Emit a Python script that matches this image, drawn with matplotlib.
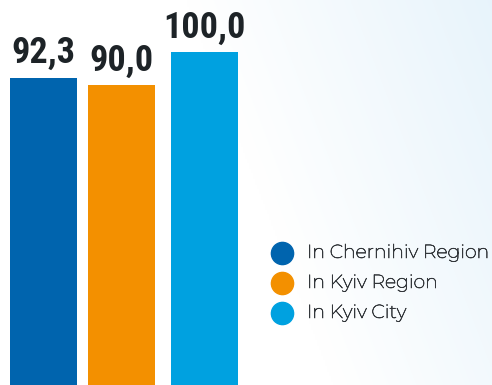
import numpy as np
import matplotlib.pyplot as plt
import matplotlib.patheffects as pe

# valores
regioes = ['In Chernihiv Region', 'In Kyiv Region', 'In Kyiv City']
valores = [92.3, 90.0, 100.0]
rotulos = ['92,3', '90,0', '100,0']
cores = ['#0064ae', '#f39000', '#00a1e0']
posicoes = [0, 1, 2.06]

fig = plt.figure(figsize=(4.92, 3.85), dpi=100)

## fundo com degradê azul claro
fundo = fig.add_axes([0, 0, 1, 1], zorder=0)
u, v = np.meshgrid(np.linspace(0, 1, 246), np.linspace(0, 1, 193))
s = np.clip((u - 0.38) * 1.5 - 0.45 * v, 0, 1)[..., None]
azul = np.array([0xe6, 0xf3, 0xfb]) / 255
fundo.imshow(1 - s * (1 - azul), aspect='auto', extent=[0, 1, 0, 1], interpolation='bilinear')
fundo.axis('off')

ax = fig.add_axes([0, 0, 1, 1], zorder=1)
ax.patch.set_alpha(0)
ax.bar(posicoes, valores, width=0.86, color=cores)
for x, y, r in zip(posicoes, valores, rotulos):
    ax.annotate(r, (x, y), xytext=(0, 10.5), textcoords='offset points',
                ha='center', va='baseline', fontsize=26, fontweight='bold',
                family='Roboto Condensed', color='#1d2327')
ax.set_xlim(-43.5 / 78, (492 - 43.5) / 78)
ax.set_ylim(0, 100 * 385 / 333)
ax.axis('off')

## legenda manual (traço fino para engrossar a fonte light)
for i, (nome, c) in enumerate(zip(regioes, cores)):
    y = 1 - (253 + 30 * i) / 385
    ax.scatter([282 / 492], [y], s=16 ** 2, color=c, transform=ax.transAxes, clip_on=False)
    ax.text(307 / 492, y, nome, transform=ax.transAxes, va='center', ha='left',
            fontsize=13.6, family='Montserrat', color='#33373b',
            path_effects=[pe.withStroke(linewidth=0.45, foreground='#33373b')])

fig.savefig('out.png', dpi=100)
